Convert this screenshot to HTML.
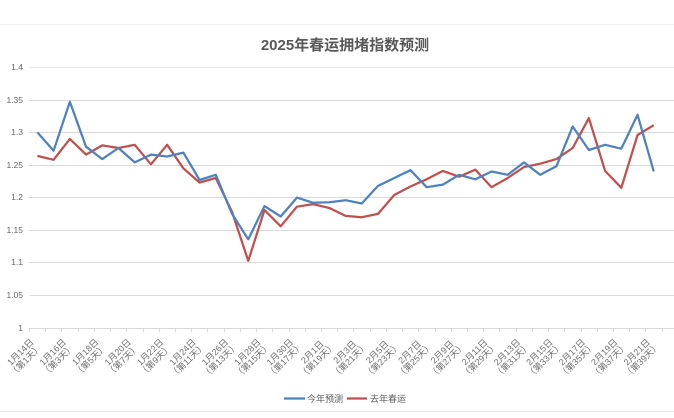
<!DOCTYPE html>
<html><head><meta charset="utf-8"><style>
html,body{margin:0;padding:0;background:#fff;}
svg{display:block;}
text{font-family:"Liberation Sans","Noto Sans CJK SC",sans-serif;}
</style></head><body>
<svg width="674" height="418" viewBox="0 0 674 418" xmlns="http://www.w3.org/2000/svg">
<rect width="674" height="418" fill="#fff"/>
<line x1="0" y1="24.5" x2="674" y2="24.5" stroke="#f0f0f0" stroke-width="1"/>
<line x1="0" y1="411.5" x2="674" y2="411.5" stroke="#ececec" stroke-width="1"/>
<text x="345" y="50" text-anchor="middle" font-size="15" font-weight="bold" fill="#595959">2025年春运拥堵指数预测</text>
<g stroke="#d9d9d9" stroke-width="1">
<line x1="29" y1="67.5" x2="674" y2="67.5" stroke="#e8e8e8"/>
<line x1="29" y1="100.5" x2="674" y2="100.5"/>
<line x1="29" y1="132.5" x2="674" y2="132.5"/>
<line x1="29" y1="165.5" x2="674" y2="165.5"/>
<line x1="29" y1="197.5" x2="674" y2="197.5"/>
<line x1="29" y1="230.5" x2="674" y2="230.5"/>
<line x1="29" y1="262.5" x2="674" y2="262.5"/>
<line x1="29" y1="295.5" x2="674" y2="295.5"/>
<line x1="29" y1="328.5" x2="674" y2="328.5"/>
</g>
<g stroke="#d9d9d9" stroke-width="1">
<path d="M29.5 328v4M45.5 328v4M61.5 328v4M78.5 328v4M94.5 328v4M110.5 328v4M126.5 328v4M143.5 328v4M159.5 328v4M175.5 328v4M191.5 328v4M207.5 328v4M224.5 328v4M240.5 328v4M256.5 328v4M272.5 328v4M289.5 328v4M305.5 328v4M321.5 328v4M337.5 328v4M353.5 328v4M370.5 328v4M386.5 328v4M402.5 328v4M418.5 328v4M435.5 328v4M451.5 328v4M467.5 328v4M483.5 328v4M499.5 328v4M516.5 328v4M532.5 328v4M548.5 328v4M564.5 328v4M581.5 328v4M597.5 328v4M613.5 328v4M629.5 328v4M645.5 328v4M662.5 328v4"/>
</g>
<g font-size="8.5" fill="#666" text-anchor="end">
<text x="23" y="70">1.4</text>
<text x="23" y="103">1.35</text>
<text x="23" y="135">1.3</text>
<text x="23" y="168">1.25</text>
<text x="23" y="200">1.2</text>
<text x="23" y="233">1.15</text>
<text x="23" y="265">1.1</text>
<text x="23" y="298">1.05</text>
<text x="23" y="331">1</text>
</g>
<polyline fill="none" stroke="#c0504d" stroke-width="2.25" stroke-linejoin="round" points="37.4,155.9 53.62,159.8 69.84,138.9 86.06,154.6 102.28,145.4 118.5,148.0 134.72,144.8 150.94,164.3 167.16,144.8 183.38,168.3 199.6,182.6 215.82,178.0 232.04,211.9 248.26,260.8 264.48,210.0 280.7,226.3 296.92,206.7 313.14,204.1 329.36,208.0 345.58,215.9 361.8,217.2 378.02,213.9 394.24,195.0 410.46,186.5 426.68,179.3 442.9,170.9 459.12,176.7 475.34,169.6 491.56,187.2 507.78,178.0 524.0,167.0 540.22,163.7 556.44,159.1 572.66,148.0 588.88,118.1 605.1,170.9 621.32,187.8 637.54,135.0 653.76,125.2"/>
<polyline fill="none" stroke="#4f81bd" stroke-width="2.25" stroke-linejoin="round" points="37.4,132.4 53.62,150.7 69.84,101.8 86.06,146.7 102.28,159.1 118.5,148.0 134.72,162.4 150.94,154.6 167.16,156.5 183.38,152.6 199.6,180.0 215.82,174.8 232.04,213.9 248.26,239.3 264.48,206.1 280.7,216.5 296.92,197.6 313.14,202.8 329.36,202.2 345.58,200.2 361.8,203.5 378.02,185.9 394.24,178.0 410.46,170.2 426.68,187.2 442.9,184.6 459.12,174.8 475.34,179.3 491.56,171.5 507.78,174.8 524.0,162.4 540.22,174.8 556.44,166.3 572.66,126.5 588.88,150.0 605.1,144.8 621.32,148.7 637.54,114.8 653.76,171.5"/>
<g font-size="9" fill="#707070" text-anchor="middle">
<g transform="translate(37.4,338) rotate(-45)"><text x="-22" y="1">1月14日</text><text x="-24" y="10.5">（第1天）</text></g>
<g transform="translate(69.84,338) rotate(-45)"><text x="-22" y="1">1月16日</text><text x="-24" y="10.5">（第3天）</text></g>
<g transform="translate(102.28,338) rotate(-45)"><text x="-22" y="1">1月18日</text><text x="-24" y="10.5">（第5天）</text></g>
<g transform="translate(134.72,338) rotate(-45)"><text x="-22" y="1">1月20日</text><text x="-24" y="10.5">（第7天）</text></g>
<g transform="translate(167.16,338) rotate(-45)"><text x="-22" y="1">1月22日</text><text x="-24" y="10.5">（第9天）</text></g>
<g transform="translate(199.6,338) rotate(-45)"><text x="-22" y="1">1月24日</text><text x="-24" y="10.5">（第11天）</text></g>
<g transform="translate(232.04,338) rotate(-45)"><text x="-22" y="1">1月26日</text><text x="-24" y="10.5">（第13天）</text></g>
<g transform="translate(264.48,338) rotate(-45)"><text x="-22" y="1">1月28日</text><text x="-24" y="10.5">（第15天）</text></g>
<g transform="translate(296.92,338) rotate(-45)"><text x="-22" y="1">1月30日</text><text x="-24" y="10.5">（第17天）</text></g>
<g transform="translate(329.36,338) rotate(-45)"><text x="-22" y="1">2月1日</text><text x="-24" y="10.5">（第19天）</text></g>
<g transform="translate(361.8,338) rotate(-45)"><text x="-22" y="1">2月3日</text><text x="-24" y="10.5">（第21天）</text></g>
<g transform="translate(394.24,338) rotate(-45)"><text x="-22" y="1">2月5日</text><text x="-24" y="10.5">（第23天）</text></g>
<g transform="translate(426.68,338) rotate(-45)"><text x="-22" y="1">2月7日</text><text x="-24" y="10.5">（第25天）</text></g>
<g transform="translate(459.12,338) rotate(-45)"><text x="-22" y="1">2月9日</text><text x="-24" y="10.5">（第27天）</text></g>
<g transform="translate(491.56,338) rotate(-45)"><text x="-22" y="1">2月11日</text><text x="-24" y="10.5">（第29天）</text></g>
<g transform="translate(524.0,338) rotate(-45)"><text x="-22" y="1">2月13日</text><text x="-24" y="10.5">（第31天）</text></g>
<g transform="translate(556.44,338) rotate(-45)"><text x="-22" y="1">2月15日</text><text x="-24" y="10.5">（第33天）</text></g>
<g transform="translate(588.88,338) rotate(-45)"><text x="-22" y="1">2月17日</text><text x="-24" y="10.5">（第35天）</text></g>
<g transform="translate(621.32,338) rotate(-45)"><text x="-22" y="1">2月19日</text><text x="-24" y="10.5">（第37天）</text></g>
<g transform="translate(653.76,338) rotate(-45)"><text x="-22" y="1">2月21日</text><text x="-24" y="10.5">（第39天）</text></g>
</g>
<line x1="284" y1="398.5" x2="305" y2="398.5" stroke="#4f81bd" stroke-width="2.25"/>
<text x="307" y="402" font-size="9" fill="#595959">今年预测</text>
<line x1="347" y1="398.5" x2="367" y2="398.5" stroke="#c0504d" stroke-width="2.25"/>
<text x="370" y="402" font-size="9" fill="#595959">去年春运</text>
</svg>
</body></html>
